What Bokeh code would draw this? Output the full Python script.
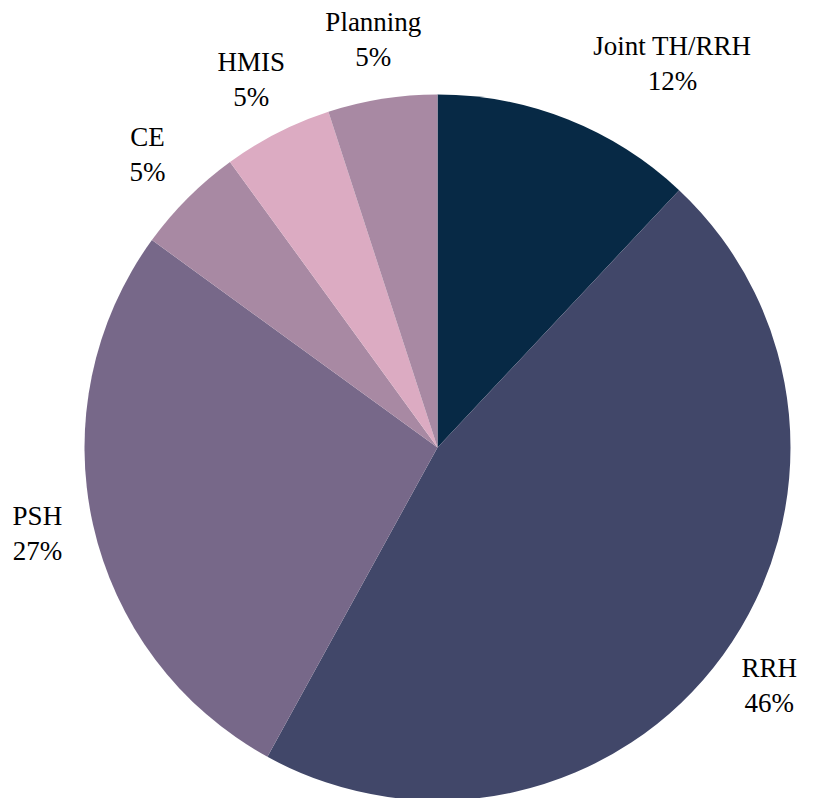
import math
from bokeh.plotting import figure
from bokeh.models import Range1d, ColumnDataSource
from bokeh.core.properties import value
from bokeh.embed import file_html
from bokeh.resources import INLINE

# ---- data ----
categories = ["Joint TH/RRH", "RRH", "PSH", "CE", "HMIS", "Planning"]
percents = [12, 46, 27, 5, 5, 5]
colors = ["#072945", "#414769", "#776889", "#a889a3", "#dcabc2", "#a889a3"]

# ---- layout / style ----
W, H = 814, 798
cx, cy = 437, 351          # pie centre in data units (1 unit = 1 px)
R = 353
label_r = 410
line_gap = 35
label_dy = 3
label_dx = [84, 0, 0, 0, 0, 0]
font = value("Liberation Serif")
fsize = "27px"

p = figure(width=W, height=H, output_backend="svg", toolbar_location=None,
           x_range=Range1d(0, W), y_range=Range1d(0, H),
           min_border=0, outline_line_color=None)
p.axis.visible = False
p.grid.visible = False
p.background_fill_color = "white"
p.border_fill_color = "white"

total = sum(percents)
starts, ends, mids = [], [], []
a = math.pi / 2
for v in percents:
    sweep = 2 * math.pi * v / total
    ends.append(a)
    starts.append(a - sweep)
    mids.append(a - sweep / 2)
    a -= sweep

src = ColumnDataSource(dict(start=starts, end=ends, color=colors,
                            x=[cx] * len(percents), y=[cy] * len(percents)))
p.wedge(x="x", y="y", radius=R, start_angle="start", end_angle="end",
        fill_color="color", line_color=None, source=src)

lx = [cx + label_r * math.cos(m) + label_dx[i] for i, m in enumerate(mids)]
ly = [cy + label_r * math.sin(m) + label_dy for m in mids]
names_src = ColumnDataSource(dict(x=lx, y=[y + line_gap / 2 for y in ly], t=categories))
pct_src = ColumnDataSource(dict(x=lx, y=[y - line_gap / 2 for y in ly],
                                t=[f"{v}%" for v in percents]))
for s in (names_src, pct_src):
    p.text(x="x", y="y", text="t", source=s,
           text_font=font, text_font_size=fsize, text_color="#000000",
           text_align="center", text_baseline="middle")

open("out.html", "w").write(file_html(p, INLINE))
